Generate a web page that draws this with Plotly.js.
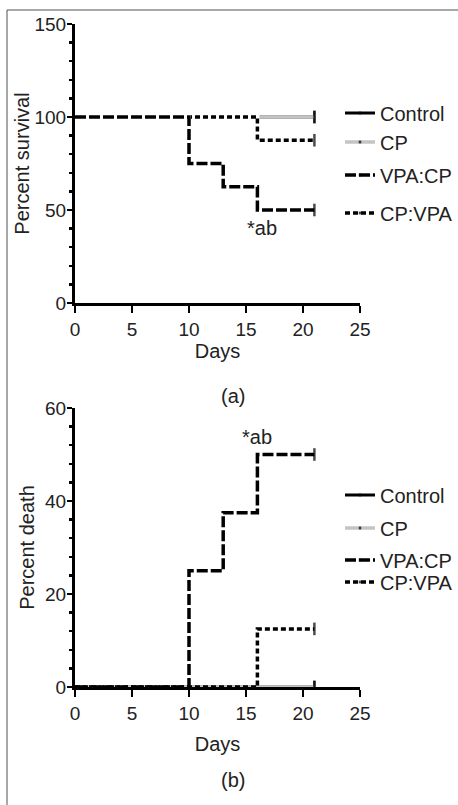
<!DOCTYPE html>
<html><head><meta charset="utf-8">
<script src="https://cdn.plot.ly/plotly-3.0.1.min.js"></script>
<style>html,body{margin:0;padding:0;background:#fff}#chart{width:458px;height:805px}</style>
</head><body><div id="chart"></div>
<script>
// ---- data ----
const days = [0, 10, 13, 16, 21];
const groups = ['Control', 'CP', 'VPA:CP', 'CP:VPA'];
const survControl = [100, 100, 100, 100, 100];
const survCP = [100, 100, 100, 100, 100];
const survVPACP = [100, 75, 62.5, 50, 50];
const survCPVPA = [100, 100, 100, 87.5, 87.5];
const deathControl = [0, 0, 0, 0, 0];
const deathCP = [0, 0, 0, 0, 0];
const deathVPACP = [0, 25, 37.5, 50, 50];
const deathCPVPA = [0, 0, 0, 12.5, 12.5];
const xTicks = [0, 5, 10, 15, 20, 25];
const survTicks = [0, 50, 100, 150];
const deathTicks = [0, 20, 40, 60];
const sigLabel = '*ab';

// ---- styles ----
const W = 458, H = 805;
const FONT = 'Liberation Sans, Arial, sans-serif';
const censor = days.map((d, i) => i === days.length - 1 ? 9 : 0);
const style = {
  'Control': {color: '#000', width: 3, dash: 'solid'},
  'CP': {color: '#c4c4c4', width: 3.4, dash: 'solid'},
  'VPA:CP': {color: '#000', width: 3.5, dash: '11px,3px'},
  'CP:VPA': {color: '#000', width: 3.5, dash: '5px,3px'}
};
function tr(name, y, xa, ya, leg) {
  const s = style[name];
  return {
    x: days, y: y, xaxis: xa, yaxis: ya, name: name, type: 'scatter',
    mode: 'lines+markers', legend: leg,
    line: {shape: 'hv', color: s.color, width: s.width, dash: s.dash},
    marker: {symbol: 'line-ns', size: censor, color: s.color,
             line: {color: '#000', width: 2.5}},
    hoverinfo: 'x+y'
  };
}
function under(y, xa, ya) {
  return {x: days, y: y, xaxis: xa, yaxis: ya, type: 'scatter', mode: 'lines',
    showlegend: false, hoverinfo: 'skip',
    line: {shape: 'hv', color: '#fff', width: 4}};
}
const data = [
  tr('Control', survControl, 'x', 'y', 'legend'),
  tr('CP', survCP, 'x', 'y', 'legend2'),
  under(survCPVPA, 'x', 'y'),
  tr('CP:VPA', survCPVPA, 'x', 'y', 'legend4'),
  under(survVPACP, 'x', 'y'),
  tr('VPA:CP', survVPACP, 'x', 'y', 'legend3'),
  tr('Control', deathControl, 'x2', 'y2', 'legend5'),
  tr('CP', deathCP, 'x2', 'y2', 'legend6'),
  tr('CP:VPA', deathCPVPA, 'x2', 'y2', 'legend8'),
  tr('VPA:CP', deathVPACP, 'x2', 'y2', 'legend7')
];

const tickFont = {family: FONT, size: 19, color: '#222'};
const txtFont = {family: FONT, size: 20, color: '#222'};
function xax(anchor, standoff) {
  return {anchor: anchor, domain: [75 / W, 360 / W], range: [0, 25], tickvals: xTicks,
    ticks: 'outside', ticklen: 7, tickwidth: 2.5, tickcolor: '#000',
    showline: true, linewidth: 3, linecolor: '#000', showgrid: false, zeroline: false,
    tickfont: tickFont, layer: 'below traces', fixedrange: true,
    title: {text: 'Days', font: txtFont, standoff: standoff}};
}
function yax(anchor, top, bottom, range, ticks, minor, title, standoff) {
  return {anchor: anchor, domain: [1 - bottom / H, 1 - top / H], range: range, tickvals: ticks,
    ticks: 'outside', ticklen: 5, tickwidth: 2.5, tickcolor: '#000',
    ticklabelstandoff: -3,
    minor: {dtick: minor, ticks: 'outside', ticklen: 3, tickwidth: 2.5, tickcolor: '#000'},
    showline: true, linewidth: 3, linecolor: '#000', showgrid: false, zeroline: false,
    tickfont: tickFont, layer: 'below traces', fixedrange: true,
    title: {text: title, font: txtFont, standoff: standoff}};
}
function leg(yc) {
  return {x: 340 / W, xanchor: 'left', y: 1 - yc / H, yanchor: 'middle',
    bgcolor: 'rgba(0,0,0,0)', font: txtFont, itemwidth: 30};
}
const legY = [113, 142, 175, 213, 495, 528, 560, 582];
const layout = {
  width: W, height: H, margin: {l: 0, r: 0, t: 0, b: 0},
  paper_bgcolor: '#fff', plot_bgcolor: 'rgba(0,0,0,0)',
  font: {family: FONT, color: '#222'},
  xaxis: xax('y', 3),
  yaxis: yax('x', 24, 303, [0, 150], survTicks, 10, 'Percent survival', 0),
  xaxis2: xax('y2', 15),
  yaxis2: yax('x2', 408, 687, [0, 60], deathTicks, 4, 'Percent death', 6),
  annotations: [
    {x: 16.4, y: 40.3, xref: 'x', yref: 'y', text: sigLabel, showarrow: false, font: txtFont},
    {x: 16.0, y: 53.8, xref: 'x2', yref: 'y2', text: sigLabel, showarrow: false, font: txtFont},
    {x: 233 / W, y: 1 - 396 / H, xref: 'paper', yref: 'paper', text: '(a)', showarrow: false, font: txtFont},
    {x: 233 / W, y: 1 - 793 / H, xref: 'paper', yref: 'paper', text: '(b)', showarrow: false, font: txtFont}
  ],
  shapes: [
    {type: 'line', xref: 'paper', yref: 'paper', x0: 7 / W, x1: 7 / W, y0: -0.01, y1: 1 - 10 / H,
     line: {color: '#8a8a8a', width: 1.5}},
    {type: 'line', xref: 'paper', yref: 'paper', x0: 7 / W, x1: 1.01, y0: 1 - 10 / H, y1: 1 - 10 / H,
     line: {color: '#555', width: 1.2}}
  ]
};
['legend', 'legend2', 'legend3', 'legend4', 'legend5', 'legend6', 'legend7', 'legend8'].forEach((k, i) => {
  layout[k] = leg(legY[i]);
});
Plotly.newPlot('chart', data, layout, {displayModeBar: false, staticPlot: true});
</script></body></html>
